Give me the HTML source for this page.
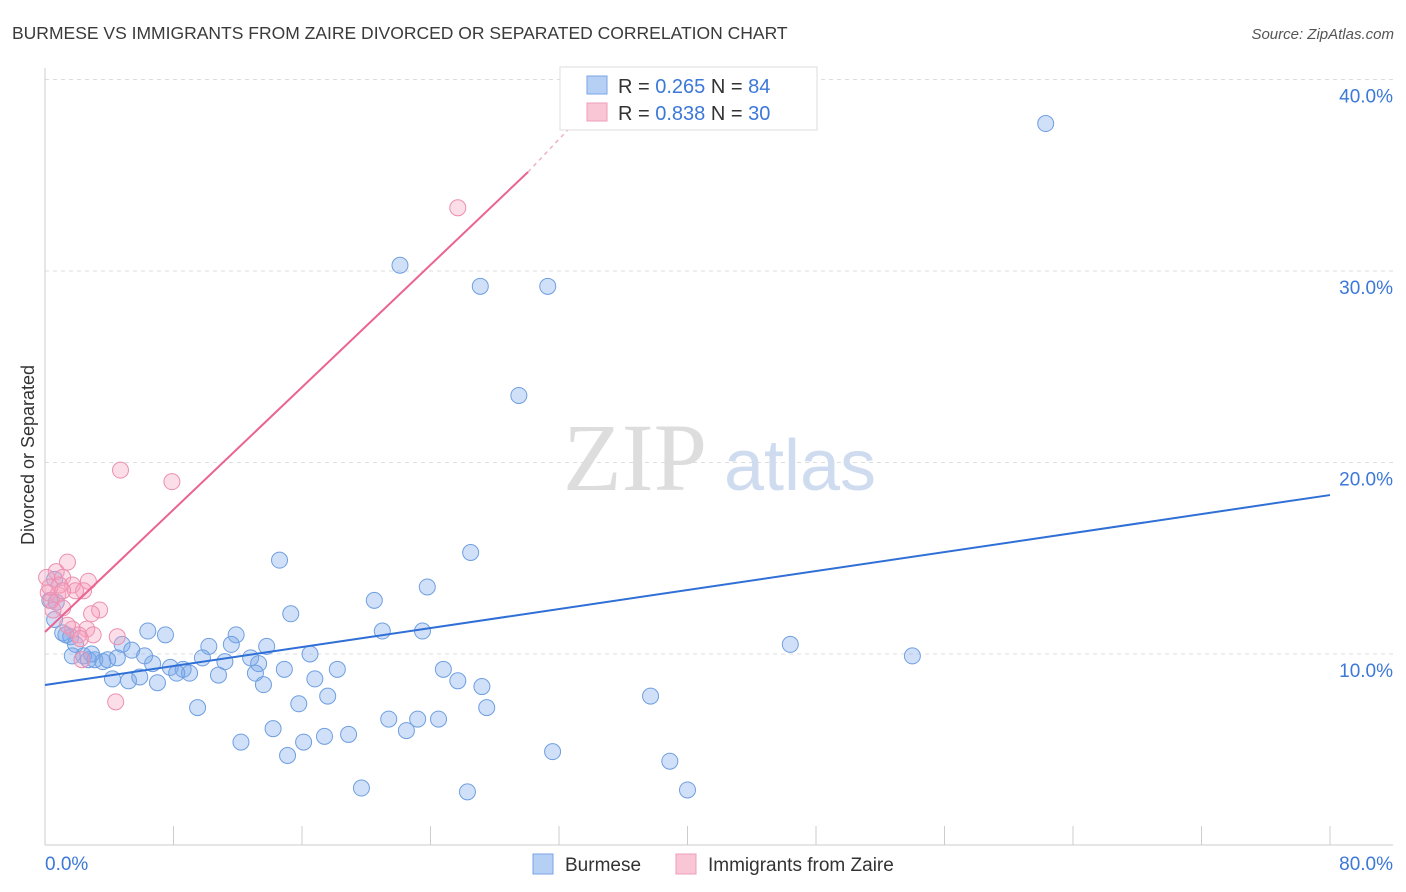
<!DOCTYPE html>
<html><head><meta charset="utf-8"><style>
body{margin:0;background:#fff;font-family:"Liberation Sans",sans-serif;}
svg{display:block}
</style></head><body>
<svg id="chart" width="1406" height="892">
<text x="12" y="39" font-size="17.5" fill="#3a3a3a">BURMESE VS IMMIGRANTS FROM ZAIRE DIVORCED OR SEPARATED CORRELATION CHART</text>
<text x="1394" y="39" font-size="15" fill="#555" font-style="italic" text-anchor="end">Source: ZipAtlas.com</text>
<g id="grid"></g>
<g id="watermark">
<text x="635" y="490" font-size="96" font-family="Liberation Serif" fill="#ddd" text-anchor="middle">ZIP</text>
<text x="800" y="490" font-size="72" fill="#cfdcf0" text-anchor="middle">atlas</text>
</g>
<text transform="translate(34,455) rotate(-90)" font-size="18" fill="#333" text-anchor="middle">Divorced or Separated</text>
<g id="marks"></g>
<g>
<rect x="560" y="67" width="257" height="63" fill="#fff" stroke="#ddd"/>
<rect x="587" y="76" width="20" height="18" fill="#b5cff5" stroke="#7aa6e6"/>
<rect x="587" y="103" width="20" height="18" fill="#f9c6d6" stroke="#ee9cb8"/>
<text x="618" y="93" font-size="20" fill="#333">R = <tspan fill="#3c78d8">0.265</tspan>   N = <tspan fill="#3c78d8">84</tspan></text>
<text x="618" y="120" font-size="20" fill="#333">R = <tspan fill="#3c78d8">0.838</tspan>   N = <tspan fill="#3c78d8">30</tspan></text>
</g>
<g>
<rect x="533" y="854" width="20" height="20" fill="#b5cff5" stroke="#7aa6e6"/>
<text x="565" y="871" font-size="19" fill="#333">Burmese</text>
<rect x="676" y="854" width="20" height="20" fill="#f9c6d6" stroke="#ee9cb8"/>
<text x="708" y="871" font-size="19" fill="#333">Immigrants from Zaire</text>
</g>
</svg>
<script>
const yTicks=[10,20,30,40];
const yTickLabels=["10.0%","20.0%","30.0%","40.0%"];
const xTickLabels=["0.0%","80.0%"];
const blueX=[62.3,22.1,27.1,31.3,29.5,14.6,26.5,23.8,20.5,15.3,21.0,23.5,46.4,54.0,6.4,7.5,11.9,10.2,11.6,13.8,16.5,12.8,13.3,11.2,9.8,6.7,7.8,8.6,9.0,8.2,10.8,13.1,14.9,18.2,16.8,24.8,25.7,27.2,13.6,7.0,5.2,4.2,5.9,9.5,15.8,17.6,27.5,37.7,21.4,23.2,24.5,22.5,14.2,12.2,16.1,17.4,18.9,15.1,31.6,38.9,19.7,26.3,40.0,0.6,1.1,1.6,1.9,2.4,1.7,2.7,3.1,3.6,3.9,4.5,4.8,5.4,6.2,0.6,0.7,0.3,1.3,2.9];
const blueY=[37.7,30.3,29.2,29.2,23.5,14.9,15.3,13.5,12.8,12.1,11.2,11.2,10.5,9.9,11.2,11.0,11.0,10.4,10.5,10.4,10.0,9.8,9.5,9.6,9.8,9.5,9.3,9.2,9.0,9.0,8.9,9.0,9.2,9.2,8.7,9.2,8.6,8.3,8.4,8.5,8.6,8.7,8.8,7.2,7.4,7.8,7.2,7.8,6.6,6.6,6.6,6.0,6.1,5.4,5.4,5.7,5.8,4.7,4.9,4.4,3.0,2.8,2.9,11.8,11.1,10.9,10.5,9.9,9.9,9.7,9.7,9.6,9.7,9.8,10.5,10.2,9.9,13.9,12.7,12.8,11.0,10.0];
const pinkX=[25.7,4.7,7.9,1.4,0.7,1.1,2.7,1.7,2.4,0.2,0.8,0.4,1.1,3.4,2.9,1.7,2.6,2.1,3.0,4.5,2.3,4.4,0.1,0.9,0.5,1.4,1.9,2.2,0.3,1.1];
const pinkY=[33.3,19.6,19.0,14.8,14.3,14.0,13.8,13.6,13.3,13.2,13.1,12.8,12.4,12.3,12.1,11.3,11.3,11.0,11.0,10.9,9.7,7.5,14.0,13.6,12.3,11.5,13.3,10.8,13.5,13.3];
const blueLine=[[0,8.38],[80,18.3]];
const pinkLine=[[0,11.15],[30.07,35.17]];
const pinkDash=[[30.07,35.17],[32.7,37.5]];

const NS="http://www.w3.org/2000/svg";
const sx=v=>45+v*1285/80;
const sy=v=>845.5-v*19.15;
function mk(tag,attrs,parent){const e=document.createElementNS(NS,tag);for(const k in attrs)e.setAttribute(k,attrs[k]);parent.appendChild(e);return e;}
const grid=document.getElementById('grid'),marks=document.getElementById('marks');
yTicks.forEach((t,i)=>{
  const l=mk('line',{x1:45,x2:1393,y1:sy(t),y2:sy(t),stroke:'#ddd','stroke-dasharray':'4,4'},grid);
  
  
  const tx=mk('text',{x:1393,y:sy(t)+23,'font-size':19,fill:'#3c78d8','text-anchor':'end'},grid);
  tx.textContent=yTickLabels[i];
  
  
});
const ax=mk('line',{x1:45,x2:45,y1:68,y2:845,stroke:'#ccc'},grid);


const bx=mk('line',{x1:45,x2:1393,y1:845,y2:845,stroke:'#ccc'},grid);


for(let v=0;v<=80;v+=8){
  const t=mk('line',{x1:sx(v),x2:sx(v),y1:826,y2:845,stroke:'#ccc'},grid);
  
  
}
[[0,'start',45],[80,'end',1393]].forEach((d,i)=>{
  const t=mk('text',{x:d[2],y:870,'font-size':19,fill:'#3c78d8','text-anchor':d[1]},grid);
  t.textContent=xTickLabels[i];
  
  
});
blueX.forEach((x,i)=>{
  const c=mk('circle',{cx:sx(x),cy:sy(blueY[i]),r:8,fill:'rgba(120,165,235,0.35)',stroke:'#6f9fe0','stroke-width':1},marks);
  
  
});
pinkX.forEach((x,i)=>{
  const c=mk('circle',{cx:sx(x),cy:sy(pinkY[i]),r:8,fill:'rgba(245,160,190,0.35)',stroke:'#ec8fb0','stroke-width':1},marks);
  
  
});
const bl=mk('line',{x1:sx(blueLine[0][0]),y1:sy(blueLine[0][1]),x2:sx(blueLine[1][0]),y2:sy(blueLine[1][1]),stroke:'#2f6fd6','stroke-width':2},marks);


const pl=mk('line',{x1:sx(pinkLine[0][0]),y1:sy(pinkLine[0][1]),x2:sx(pinkLine[1][0]),y2:sy(pinkLine[1][1]),stroke:'#ea6392','stroke-width':2},marks);


const pd=mk('line',{x1:sx(pinkDash[0][0]),y1:sy(pinkDash[0][1]),x2:sx(pinkDash[1][0]),y2:sy(pinkDash[1][1]),stroke:'#f0b0c8','stroke-width':1.5,'stroke-dasharray':'4,4'},marks);


</script>
</body></html>
